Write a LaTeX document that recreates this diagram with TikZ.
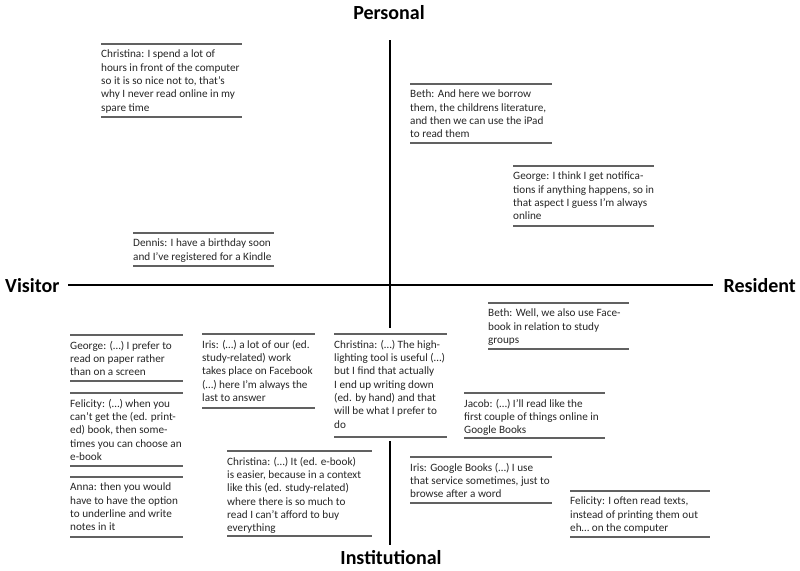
\documentclass[tikz,border=0pt]{standalone}
\usepackage{fontspec}
\setmainfont{Carlito}
\begin{document}
\begin{tikzpicture}[x=1pt,y=-1pt,
  rulestyle/.style={draw=black!62, line width=1.8pt},
  axis/.style={draw=black, line width=1.8pt},
  quote/.style={anchor=north west, align=left, inner sep=0pt, text=black!85,
    font=\fontsize{11.2}{13.3}\selectfont},
  axlabel/.style={inner sep=0pt, font=\fontsize{20}{24}\selectfont\bfseries}]
\useasboundingbox (0,0) rectangle (800,570);
\newcommand\qbox[6]{%
  \draw[rulestyle] (#2,#3) -- (#4,#3);
  \draw[rulestyle] (#2,#5) -- (#4,#5);
  \node[quote] (#1) at (#2,#3+6) {#6};}
% axes
\coordinate (axtop) at (390,40);
\coordinate (axgapA) at (390,328);
\coordinate (axgapB) at (390,441);
\coordinate (axbot) at (390,545);
\coordinate (axleft) at (68,285);
\coordinate (axright) at (713,285);
\draw[axis] (axtop) -- (axgapA);
\draw[axis] (axgapB) -- (axbot);
\draw[axis] (axleft) -- (axright);
\node[axlabel, anchor=base] (pers) at (389,19) {Personal};
\node[axlabel, anchor=base] (inst) at (391,564) {Institutional};
\node[axlabel, anchor=base west] (vis) at (5,292) {Visitor};
\node[axlabel, anchor=base east] (res) at (796,292) {Resident};
% quotes
\qbox{q1}{101}{44}{242}{117}{Christina: I spend a lot of\\hours in front of the computer\\so it is so nice not to, that’s\\why I never read online in my\\spare time}
\qbox{q2}{410}{84}{552}{143}{Beth: And here we borrow\\them, the childrens literature,\\and then we can use the iPad\\to read them}
\qbox{q3}{513}{166}{654}{226}{George: I think I get notifica-\\tions if anything happens, so in\\that aspect I guess I’m always\\online}
\qbox{q4}{133}{233}{274}{266}{Dennis: I have a birthday soon\\and I’ve registered for a Kindle}
\qbox{q5}{488}{303}{629}{349}{Beth: Well, we also use Face-\\book in relation to study\\groups}
\qbox{q6}{70}{335}{183}{381}{George: (…) I prefer to\\read on paper rather\\than on a screen}
\qbox{q7}{70}{393}{183}{466}{Felicity: (…) when you\\can’t get the (ed. print-\\ed) book, then some-\\times you can choose an\\e-book}
\qbox{q8}{70}{477}{183}{537}{Anna: then you would\\have to have the option\\to underline and write\\notes in it}
\qbox{q9}{202}{334}{315}{408}{Iris: (…) a lot of our (ed.\\study-related) work\\takes place on Facebook\\(…) here I’m always the\\last to answer}
\qbox{q10}{334}{334}{447}{437}{Christina: (…) The high-\\lighting tool is useful (…)\\but I find that actually\\I end up writing down\\(ed. by hand) and that\\will be what I prefer to\\do}
\qbox{q11}{464}{393}{605}{438}{Jacob: (…) I’ll read like the\\first couple of things online in\\Google Books}
\qbox{q12}{227}{451}{372}{536}{Christina: (…) It (ed. e-book)\\is easier, because in a context\\like this (ed. study-related)\\where there is so much to\\read I can’t afford to buy\\everything}
\qbox{q13}{410}{457}{552}{503}{Iris: Google Books (…) I use\\that service sometimes, just to\\browse after a word}
\qbox{q14}{570}{491}{710}{537}{Felicity: I often read texts,\\instead of printing them out\\eh… on the computer}
\end{tikzpicture}
\end{document}
